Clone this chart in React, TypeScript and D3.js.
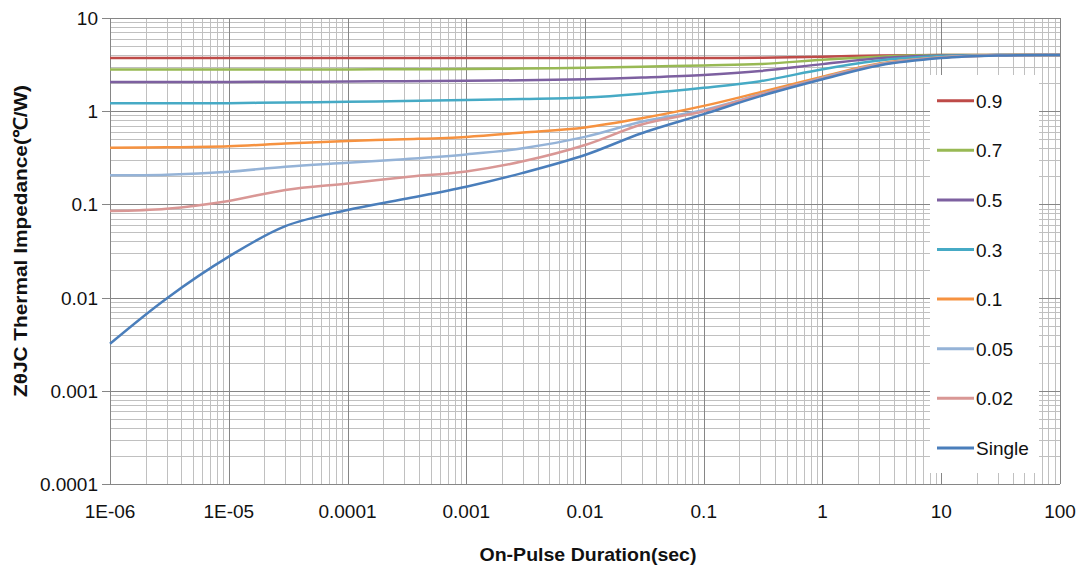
import React, { useRef, useEffect } from 'react';
import * as d3 from 'd3';

// pulse durations (sec) at which the curves were read
const durations = [1e-6, 3e-6, 1e-5, 3e-5, 1e-4, 3e-4, 1e-3, 3e-3, 1e-2, 3e-2, 0.1, 0.3, 1, 3, 10, 30, 100];

const d09 = [3.72, 3.72, 3.72, 3.72, 3.72, 3.72, 3.72, 3.72, 3.72, 3.72, 3.72, 3.75, 3.85, 3.95, 4.0, 4.0, 4.0];
const d07 = [2.81, 2.81, 2.81, 2.81, 2.81, 2.82, 2.83, 2.87, 2.93, 3.0, 3.1, 3.2, 3.57, 3.85, 4.0, 4.0, 4.0];
const d05 = [2.06, 2.06, 2.06, 2.07, 2.08, 2.1, 2.12, 2.15, 2.2, 2.3, 2.45, 2.7, 3.2, 3.7, 3.95, 4.0, 4.0];
const d03 = [1.22, 1.22, 1.22, 1.24, 1.26, 1.29, 1.32, 1.35, 1.4, 1.54, 1.78, 2.1, 2.82, 3.5, 3.9, 4.0, 4.0];
const d01 = [0.406, 0.41, 0.42, 0.45, 0.48, 0.5, 0.53, 0.59, 0.67, 0.84, 1.14, 1.6, 2.35, 3.25, 3.8, 3.98, 4.0];
const d005 = [0.205, 0.208, 0.224, 0.254, 0.28, 0.306, 0.344, 0.4, 0.53, 0.77, 1.03, 1.52, 2.28, 3.2, 3.78, 3.97, 4.0];
const d002 = [0.085, 0.09, 0.109, 0.143, 0.168, 0.196, 0.226, 0.29, 0.434, 0.72, 1.0, 1.5, 2.25, 3.15, 3.76, 3.97, 4.0];
const single = [0.0032, 0.0098, 0.0275, 0.0585, 0.087, 0.114, 0.155, 0.218, 0.339, 0.58, 0.93, 1.45, 2.2, 3.1, 3.72, 3.96, 4.0];

const seriesNames = ['0.9', '0.7', '0.5', '0.3', '0.1', '0.05', '0.02', 'Single'];
const seriesValues = [d09, d07, d05, d03, d01, d005, d002, single];
const seriesColors = ['#BE4B48', '#98B954', '#7D60A0', '#46AAC5', '#F69240', '#95B3D7', '#D99795', '#4A7EBB'];

const xTickLabels = ['1E-06', '1E-05', '0.0001', '0.001', '0.01', '0.1', '1', '10', '100'];
const yTickLabels = ['0.0001', '0.001', '0.01', '0.1', '1', '10'];

const ThermalChart = () => {
    const svgRef = useRef<SVGSVGElement>(null);

    useEffect(() => {
        const svg = d3.select(svgRef.current);
        svg.selectAll('*').remove();

        const W = 1078, H = 568;
        const left = 110, right = 1060, top = 18, bottom = 484;
        const font = '"Liberation Sans", Arial, sans-serif';

        const x = d3.scaleLog().domain([1e-6, 100]).range([left, right]);
        const y = d3.scaleLog().domain([1e-4, 10]).range([bottom, top]);

        svg.append('rect').attr('width', W).attr('height', H).attr('fill', '#fff');

        const isMajor = (v: number) => Math.abs(Math.log10(v) - Math.round(Math.log10(v))) < 1e-6;

        const xt = x.ticks();
        const yt = y.ticks();
        const grid = svg.append('g').attr('shape-rendering', 'crispEdges');

        // minor grid first, then major on top
        [false, true].forEach(major => {
            grid.selectAll(null)
                .data(xt.filter(v => isMajor(v) === major))
                .join('line')
                .attr('x1', d => Math.round(x(d)) + 0.5).attr('x2', d => Math.round(x(d)) + 0.5)
                .attr('y1', top).attr('y2', bottom)
                .attr('stroke', major ? '#868686' : '#c0c0c0')
                .attr('stroke-width', 1);
            grid.selectAll(null)
                .data(yt.filter(v => isMajor(v) === major))
                .join('line')
                .attr('y1', d => Math.round(y(d)) + 0.5).attr('y2', d => Math.round(y(d)) + 0.5)
                .attr('x1', left).attr('x2', right)
                .attr('stroke', major ? '#868686' : '#c0c0c0')
                .attr('stroke-width', 1);
        });

        // y axis line and outer ticks
        grid.append('line')
            .attr('x1', left + 0.5).attr('x2', left + 0.5)
            .attr('y1', top).attr('y2', bottom)
            .attr('stroke', '#868686');
        const yMajor = yt.filter(isMajor);
        grid.selectAll(null)
            .data(yMajor)
            .join('line')
            .attr('x1', left - 8).attr('x2', left)
            .attr('y1', d => Math.round(y(d)) + 0.5).attr('y2', d => Math.round(y(d)) + 0.5)
            .attr('stroke', '#868686');

        // tick labels
        svg.append('g')
            .selectAll('text')
            .data(yMajor)
            .join('text')
            .attr('x', 98)
            .attr('y', d => y(d) + 7)
            .attr('text-anchor', 'end')
            .attr('font-family', font)
            .attr('font-size', 19)
            .attr('fill', '#111')
            .text((d, i) => yTickLabels[i]);

        svg.append('g')
            .selectAll('text')
            .data(xt.filter(isMajor))
            .join('text')
            .attr('x', d => x(d))
            .attr('y', 518)
            .attr('text-anchor', 'middle')
            .attr('font-family', font)
            .attr('font-size', 19)
            .attr('fill', '#111')
            .text((d, i) => xTickLabels[i]);

        // axis titles
        svg.append('text')
            .attr('x', 588)
            .attr('y', 561)
            .attr('text-anchor', 'middle')
            .attr('font-family', font)
            .attr('font-weight', 'bold')
            .attr('font-size', 19)
            .attr('textLength', 217)
            .attr('lengthAdjust', 'spacingAndGlyphs')
            .attr('fill', '#111')
            .text('On-Pulse Duration(sec)');

        svg.append('text')
            .attr('transform', 'translate(27,241) rotate(-90)')
            .attr('text-anchor', 'middle')
            .attr('font-family', font)
            .attr('font-weight', 'bold')
            .attr('font-size', 19)
            .attr('textLength', 312)
            .attr('lengthAdjust', 'spacingAndGlyphs')
            .attr('fill', '#111')
            .text('ZθJC Thermal Impedance(℃/W)');

        // curves, smoothed like the spreadsheet lines
        const line = d3.line<number>()
            .x((d, i) => x(durations[i]))
            .y(d => y(d))
            .curve(d3.curveCatmullRom.alpha(0.5));

        svg.append('g')
            .selectAll('path')
            .data(seriesValues)
            .join('path')
            .attr('fill', 'none')
            .attr('stroke', (d, i) => seriesColors[i])
            .attr('stroke-width', 2.5)
            .attr('d', d => line(d));

        // legend
        const lg = svg.append('g');
        lg.append('rect')
            .attr('x', 930).attr('y', 75)
            .attr('width', 109).attr('height', 398)
            .attr('fill', '#fff');

        const item = lg.selectAll('g.item')
            .data(seriesNames)
            .join('g')
            .attr('class', 'item')
            .attr('transform', (d, i) => `translate(0,${100.7 + i * 49.6})`);

        item.append('line')
            .attr('x1', 937).attr('x2', 974)
            .attr('y1', 0).attr('y2', 0)
            .attr('stroke', (d, i) => seriesColors[i])
            .attr('stroke-width', 3);

        item.append('text')
            .attr('x', 976)
            .attr('y', 7)
            .attr('font-family', font)
            .attr('font-size', 19)
            .attr('fill', '#111')
            .text(d => d);
    }, []);

    return (
        <svg ref={svgRef} width="1078" height="568" style={{ display: 'block' }}></svg>
    );
};

export default function App() {
    return (
        <>
            <style>{'body{margin:0}'}</style>
            <ThermalChart />
        </>
    );
}
